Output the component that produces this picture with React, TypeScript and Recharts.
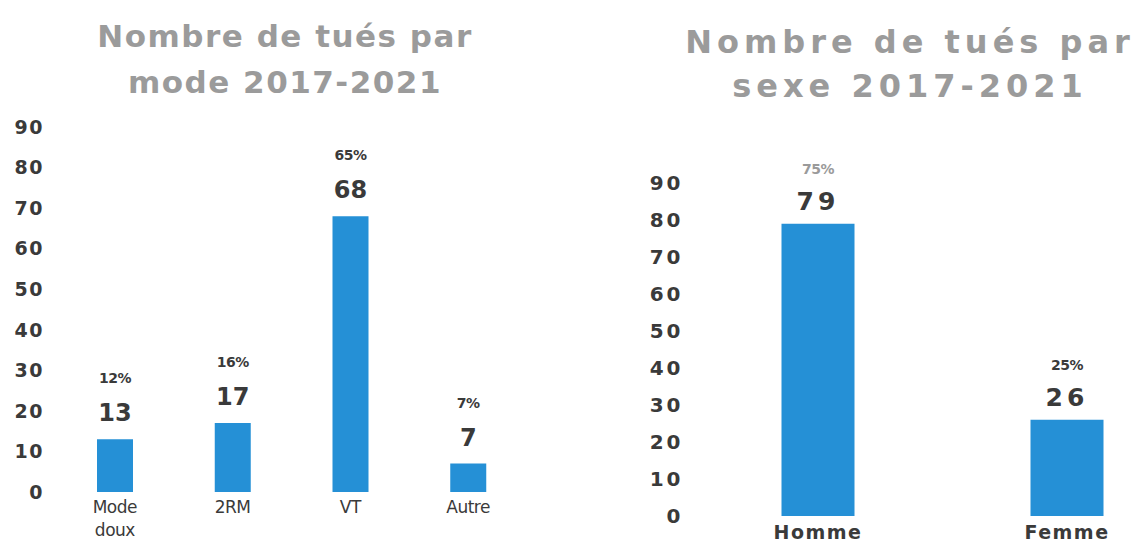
import React from 'react';
import { BarChart, Bar, XAxis, YAxis, LabelList } from 'recharts';

const modeCategories = ['Mode doux', '2RM', 'VT', 'Autre'];
const modeValues = [13, 17, 68, 7];
const modePercents = ['12%', '16%', '65%', '7%'];

const sexeCategories = ['Homme', 'Femme'];
const sexeValues = [79, 26];
const sexePercents = ['75%', '25%'];

const yTicks = [0, 10, 20, 30, 40, 50, 60, 70, 80, 90];

const BLUE = '#2590d6';
const DARK = '#3a3a3a';
const FONT = '"DejaVu Sans", sans-serif';

const modeData = modeCategories.map((name, i) => ({ name, value: modeValues[i], pct: modePercents[i] }));
const sexeData = sexeCategories.map((name, i) => ({ name, value: sexeValues[i], pct: sexePercents[i] }));

const ModeTick = (props: any) => {
  const { x, y, payload } = props;
  const lines = String(payload.value).split(' ');
  return (
    <text x={x} y={y} textAnchor="middle" fill={DARK} fontFamily={FONT} fontSize={17} letterSpacing={-0.5}>
      {lines.map((l, i) => (
        <tspan key={i} x={x} dy={i === 0 ? 21 : 23}>{l}</tspan>
      ))}
    </text>
  );
};

const SexeTick = (props: any) => {
  const { x, y, payload } = props;
  return (
    <text x={x} y={y} dy={23} textAnchor="middle" fill={DARK} fontFamily={FONT} fontSize={19} fontWeight="bold" letterSpacing={1.5}>
      {payload.value}
    </text>
  );
};

const makeLabel = (pcts: string[], valOff: number, pctOff: number, valSize: number, spacing: number) => (props: any) => {
  const { x, y, width, value, index } = props;
  const cx = x + width / 2;
  return (
    <g>
      <text x={cx} y={y - pctOff} textAnchor="middle" dominantBaseline="central" fill={index === 0 && pcts === sexePercents ? '#9a9a9a' : DARK}
        fontFamily={FONT} fontSize={14} fontWeight="bold" letterSpacing={-0.5}>
        {pcts[index]}
      </text>
      <text x={cx} y={y - valOff} textAnchor="middle" dominantBaseline="central" fill={DARK}
        fontFamily={FONT} fontSize={valSize} fontWeight="bold" letterSpacing={spacing}>
        {value}
      </text>
    </g>
  );
};

const titleStyle: React.CSSProperties = {
  position: 'absolute',
  color: '#9b9b9b',
  fontFamily: FONT,
  fontWeight: 'bold',
  textAlign: 'center',
  whiteSpace: 'nowrap',
};

export default function App() {
  return (
    <div style={{ position: 'fixed', left: 0, top: 0, width: 1143, height: 546, overflow: 'hidden', background: '#fff' }}>
      <div style={{ ...titleStyle, left: 85, width: 400, top: 13, fontSize: 31, lineHeight: '46px', letterSpacing: 1.5 }}>
        Nombre de tués par<br />mode 2017-2021
      </div>
      <div style={{ ...titleStyle, left: 660, width: 500, top: 20, fontSize: 32, lineHeight: '44px', letterSpacing: 5 }}>
        Nombre de tués par<br />sexe 2017-2021
      </div>

      <div style={{ position: 'absolute', left: 0, top: 0 }}>
        <BarChart width={560} height={546} data={modeData} margin={{ top: 127, right: 33, bottom: 0, left: 0 }}>
          <XAxis dataKey="name" axisLine={false} tickLine={false} tickSize={0} tickMargin={0} height={54} tick={<ModeTick />} interval={0} />
          <YAxis domain={[0, 90]} ticks={yTicks} width={56} axisLine={false} tickLine={false} tickSize={0} tickMargin={12}
            tick={{ fill: DARK, fontFamily: FONT, fontSize: 19, fontWeight: 'bold', letterSpacing: 1.5 }} interval={0} />
          <Bar dataKey="value" fill={BLUE} barSize={36} isAnimationActive={false}>
            <LabelList dataKey="value" content={makeLabel(modePercents, 26, 61, 24, 0)} />
          </Bar>
        </BarChart>
      </div>

      <div style={{ position: 'absolute', left: 580, top: 0 }}>
        <BarChart width={620} height={546} data={sexeData} margin={{ top: 183, right: 8.5, bottom: 0, left: 0 }}>
          <XAxis dataKey="name" axisLine={false} tickLine={false} tickSize={0} tickMargin={0} height={30} tick={<SexeTick />} interval={0} />
          <YAxis domain={[0, 90]} ticks={yTicks} width={113.5} axisLine={false} tickLine={false} tickSize={0} tickMargin={10}
            tick={{ fill: DARK, fontFamily: FONT, fontSize: 20, fontWeight: 'bold', letterSpacing: 3 }} interval={0} />
          <Bar dataKey="value" fill={BLUE} barSize={73} isAnimationActive={false}>
            <LabelList dataKey="value" content={makeLabel(sexePercents, 22, 55, 25, 4)} />
          </Bar>
        </BarChart>
      </div>
    </div>
  );
}
